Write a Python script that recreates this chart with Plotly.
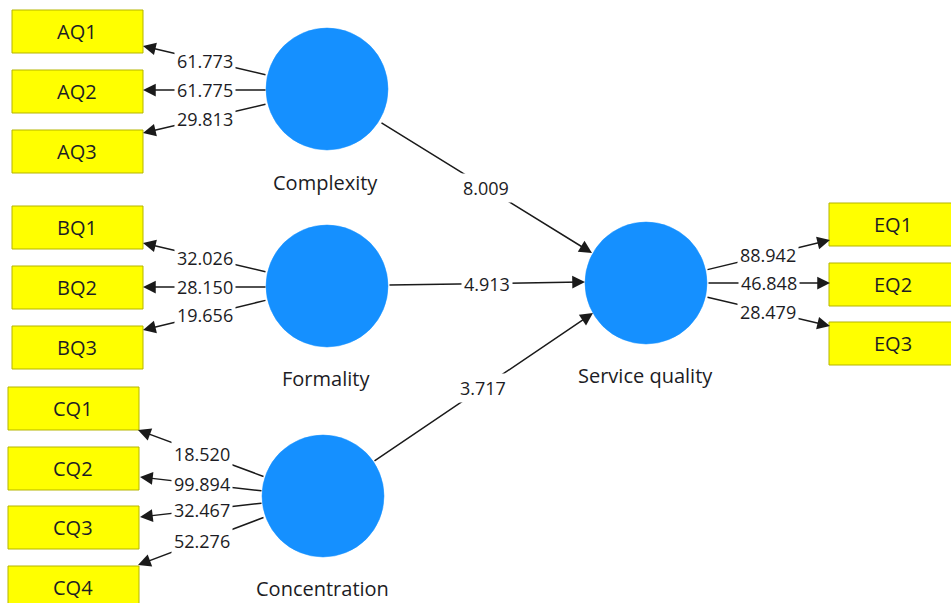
import plotly.graph_objects as go

# ---------------- data ----------------
constructs = ["Complexity", "Formality", "Concentration", "Service quality"]

aq_items = ["AQ1", "AQ2", "AQ3"]
aq_values = [61.773, 61.775, 29.813]
bq_items = ["BQ1", "BQ2", "BQ3"]
bq_values = [32.026, 28.150, 19.656]
cq_items = ["CQ1", "CQ2", "CQ3", "CQ4"]
cq_values = [18.520, 99.894, 32.467, 52.276]
eq_items = ["EQ1", "EQ2", "EQ3"]
eq_values = [88.942, 46.848, 28.479]

path_sources = ["Complexity", "Formality", "Concentration"]
path_values = [8.009, 4.913, 3.717]

# ---------------- layout (pixel coordinates) ----------------
W, H = 951, 603
R = 61
centers = {
    "Complexity": (327, 89),
    "Formality": (327, 286),
    "Concentration": (323, 496),
    "Service quality": (646, 283),
}
name_pos = {
    "Complexity": (325, 182),
    "Formality": (326, 378),
    "Concentration": (322, 588),
    "Service quality": (645, 375),
}
# box: x0, x1, tops ; height
BOX_H = 43
box_geo = {
    "AQ": (12, 143, [10, 70, 130]),
    "BQ": (12, 143, [206, 266, 326]),
    "CQ": (8, 139, [387, 447, 506, 566]),
    "EQ": (829, 960, [203, 263, 322]),
}
label_x = {"AQ": 77, "BQ": 77, "CQ": 73, "EQ": 893}
# measurement arrows: (tail, tip)
meas_geo = {
    "AQ": [((267, 75), (143, 46)), ((267, 90), (143, 90)), ((267, 104), (143, 133))],
    "BQ": [((267, 272), (143, 243)), ((267, 287), (143, 287)), ((267, 300), (143, 330))],
    "CQ": [((265, 477), (138, 430)), ((263, 491), (140, 477)),
           ((263, 503), (140, 517)), ((265, 517), (138, 565))],
    "EQ": [((706, 270), (830, 240)), ((707, 283), (830, 283)), ((706, 297), (830, 326))],
}
struct_geo = [((380, 122), (592, 253)), ((388, 285), (585, 282)), ((373, 462), (593, 313))]

# ---------------- styles ----------------
FONT = "Open Sans"
TXT = "#1c1c24"
CIRCLE = "#1590FF"
BOX_FILL = "#FFFF00"
BOX_LINE = "#B5B500"
LINE = "#1a1a1a"

fig = go.Figure()
fig.add_trace(go.Scatter(x=[0, W], y=[0, H], mode="markers",
                         marker=dict(opacity=0), hoverinfo="skip", showlegend=False))

shapes = []
annotations = []

groups = [
    ("AQ", aq_items, aq_values, "Complexity"),
    ("BQ", bq_items, bq_values, "Formality"),
    ("CQ", cq_items, cq_values, "Concentration"),
    ("EQ", eq_items, eq_values, "Service quality"),
]

# boxes
for key, items, vals, c in groups:
    x0, x1, tops = box_geo[key]
    for name, top in zip(items, tops):
        shapes.append(dict(type="rect", xref="x", yref="y", x0=x0, x1=x1,
                           y0=top, y1=top + BOX_H, fillcolor=BOX_FILL,
                           line=dict(color=BOX_LINE, width=1), layer="below"))
        annotations.append(dict(x=label_x[key], y=top + BOX_H / 2, text=name,
                                showarrow=False,
                                font=dict(family=FONT, size=20, color=TXT)))

# circles
for c in constructs:
    cx, cy = centers[c]
    shapes.append(dict(type="circle", xref="x", yref="y", x0=cx - R, x1=cx + R,
                       y0=cy - R, y1=cy + R, fillcolor=CIRCLE,
                       line=dict(color=CIRCLE, width=0.5), layer="below"))
    nx, ny = name_pos[c]
    annotations.append(dict(x=nx, y=ny, text=c, showarrow=False,
                            font=dict(family=FONT, size=20, color=TXT)))

arrow_list = []
label_list = []
for key, items, vals, c in groups:
    for (tail, tip), v in zip(meas_geo[key], vals):
        arrow_list.append((tail, tip))
        label_list.append(((tail[0] + tip[0]) / 2, (tail[1] + tip[1]) / 2, v))
for (tail, tip), v in zip(struct_geo, path_values):
    arrow_list.append((tail, tip))
    label_list.append(((tail[0] + tip[0]) / 2, (tail[1] + tip[1]) / 2, v))

for tail, tip in arrow_list:
    annotations.append(dict(x=tip[0], y=tip[1], ax=tail[0], ay=tail[1],
                            xref="x", yref="y", axref="x", ayref="y",
                            text="", showarrow=True, arrowhead=2, arrowsize=1.7,
                            arrowwidth=1.5, arrowcolor=LINE, standoff=0))
for lx, ly, v in label_list:
    annotations.append(dict(x=lx, y=ly, text=f"{v:.3f}", showarrow=False,
                            bgcolor="white", borderpad=2,
                            font=dict(family=FONT, size=18, color=TXT)))

fig.update_layout(
    width=W, height=H, margin=dict(l=0, r=0, t=0, b=0),
    paper_bgcolor="white", plot_bgcolor="white",
    xaxis=dict(range=[0, W], visible=False, fixedrange=True),
    yaxis=dict(range=[H, 0], visible=False, fixedrange=True),
    shapes=shapes, annotations=annotations, showlegend=False,
)
fig.write_html(
    "out.html",
    config={"displayModeBar": False},
    post_script="document.body.style.margin='0';document.body.style.overflow='hidden';",
)
